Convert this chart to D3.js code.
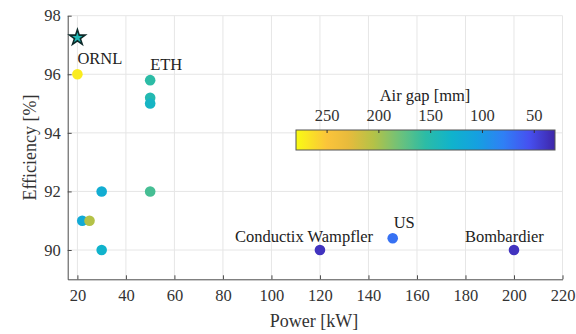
<!DOCTYPE html>
<html>
<head>
<meta charset="utf-8">
<script src="https://cdn.jsdelivr.net/npm/d3@7"></script>
<style>
  html, body { margin: 0; padding: 0; background: #fff; }
  svg { display: block; }
  svg text { font-family: "Liberation Serif", "Times New Roman", serif; }
</style>
</head>
<body>
<svg id="chart" width="576" height="334"></svg>
<script>
// Wireless charging systems: power vs. efficiency, coloured by air gap
const power      = [20, 50, 50, 50, 30, 50, 22, 25, 30, 120, 150, 200];
const efficiency = [96, 95.8, 95.2, 95.0, 92, 92, 91, 91, 90, 90, 90.4, 90];
const airGap     = [272, 155, 148, 135, 122, 165, 118, 205, 130, 38, 72, 38];

// Highlighted system (star marker)
const starPower = [20];
const starEfficiency = [97.25];
const starAirGap = [145];

// Text labels placed next to groups of points
const labelText  = ["ORNL", "ETH", "Conductix Wampfler", "US", "Bombardier"];
const labelPower = [20, 50, 120, 150, 200];
const labelEff   = [96, 95.8, 90, 90.4, 90];

const xTicks = [20, 40, 60, 80, 100, 120, 140, 160, 180, 200, 220];
const yTicks = [90, 92, 94, 96, 98];
const gapTicks = [250, 200, 150, 100, 50];

// Parula-style colormap stops (low -> high)
const parulaStops = ["#3e26a8", "#4650f0", "#2f80f5", "#15a0e0", "#10b3cc",
                     "#2cbca6", "#6ec27a", "#b4c247", "#e8bb3c", "#fbc43a", "#f9fb14"];
const parulaPos = [0, 0.1, 0.2, 0.3, 0.4, 0.5, 0.6, 0.7, 0.8, 0.88, 1];
const parulaScale = d3.scaleLinear().domain(parulaPos).range(parulaStops)
  .interpolate(d3.interpolateRgb).clamp(true);
const gapDomain = [30, 280];
const color = v => parulaScale((v - gapDomain[0]) / (gapDomain[1] - gapDomain[0]));

const svg = d3.select("#chart");
const x = d3.scaleLinear().domain([16, 220]).range([67.7, 562.5]);
const y = d3.scaleLinear().domain([89, 98]).range([279.3, 15.7]);

const axisColor = "#4a4a4a";
const textColor = "#333";

// Grid
const grid = svg.append("g").attr("stroke", "#e6e6e6").attr("stroke-width", 1);
grid.selectAll("line.vx").data(xTicks).join("line")
  .attr("x1", d => x(d)).attr("x2", d => x(d))
  .attr("y1", y(89)).attr("y2", y(98));
grid.selectAll("line.hy").data(yTicks).join("line")
  .attr("y1", d => y(d)).attr("y2", d => y(d))
  .attr("x1", x(16)).attr("x2", x(220));

// Axes (ticks pointing inward)
const xAxis = d3.axisBottom(x).tickValues(xTicks).tickSize(-4).tickPadding(10).tickSizeOuter(0);
const yAxis = d3.axisLeft(y).tickValues(yTicks).tickSize(-4).tickPadding(7).tickSizeOuter(0);

const gx = svg.append("g").attr("transform", `translate(0,${y(89)})`).call(xAxis);
const gy = svg.append("g").attr("transform", `translate(${x(16)},0)`).call(yAxis);
[gx, gy].forEach(g => {
  g.attr("font-family", null).attr("font-size", null);
  g.select(".domain").attr("stroke", axisColor);
  g.selectAll(".tick line").attr("stroke", axisColor);
  g.selectAll(".tick text").attr("fill", textColor).style("font-size", "16.5px");
});
gx.selectAll(".tick text").attr("dy", "0.71em");

// Axis titles
svg.append("text")
  .attr("x", (x(16) + x(220)) / 2 - 1).attr("y", 327)
  .attr("text-anchor", "middle").attr("fill", textColor)
  .style("font-size", "18px").text("Power [kW]");
svg.append("text")
  .attr("transform", `translate(36,${(y(89) + y(98)) / 2}) rotate(-90)`)
  .attr("text-anchor", "middle").attr("fill", textColor)
  .style("font-size", "18px").text("Efficiency [%]");

// Data points
svg.append("g").selectAll("circle")
  .data(power.map((p, i) => ({ p, e: efficiency[i], g: airGap[i] })))
  .join("circle")
  .attr("cx", d => x(d.p)).attr("cy", d => y(d.e)).attr("r", 5.3)
  .attr("fill", d => color(d.g));

// Star marker
const star = d3.symbol().type(d3.symbolStar).size(75);
svg.append("g").selectAll("path")
  .data(starPower.map((p, i) => ({ p, e: starEfficiency[i], g: starAirGap[i] })))
  .join("path")
  .attr("d", star)
  .attr("transform", d => `translate(${x(d.p)},${y(d.e)})`)
  .attr("fill", d => color(d.g)).attr("stroke", "#0d2a2a").attr("stroke-width", 1.6);

// Point labels
const labelDx = [0, 0, -85, 1, -49];
const labelDy = [-10, -10, -8, -10, -8];
svg.append("g").selectAll("text")
  .data(labelText.map((t, i) => ({ t, p: labelPower[i], e: labelEff[i], i })))
  .join("text")
  .attr("x", d => x(d.p) + labelDx[d.i])
  .attr("y", d => y(d.e) + labelDy[d.i])
  .attr("fill", "#222").style("font-size", "16.5px")
  .text(d => d.t);

// Colorbar: high air gap on the left, low on the right
const cb = { x0: 296, x1: 555, y0: 130, y1: 150 };
const cbScale = d3.scaleLinear().domain([280, 30]).range([cb.x0, cb.x1]);
const defs = svg.append("defs");
const grad = defs.append("linearGradient").attr("id", "gapGrad")
  .attr("x1", "0%").attr("x2", "100%").attr("y1", "0%").attr("y2", "0%");
d3.range(0, 1.0001, 0.02).forEach(t => {
  const v = 280 - t * 250;
  grad.append("stop").attr("offset", `${t * 100}%`).attr("stop-color", color(v));
});
svg.append("rect")
  .attr("x", cb.x0).attr("y", cb.y0)
  .attr("width", cb.x1 - cb.x0).attr("height", cb.y1 - cb.y0)
  .attr("fill", "url(#gapGrad)").attr("stroke", "#555").attr("stroke-width", 1);
svg.append("g").selectAll("line").data(gapTicks).join("line")
  .attr("x1", d => cbScale(d)).attr("x2", d => cbScale(d))
  .attr("y1", cb.y0).attr("y2", cb.y0 + 3)
  .attr("stroke", "#333");
svg.append("g").selectAll("text").data(gapTicks).join("text")
  .attr("x", d => cbScale(d)).attr("y", 121)
  .attr("text-anchor", "middle").attr("fill", textColor)
  .style("font-size", "16.5px").text(d => d);
svg.append("text")
  .attr("x", 425).attr("y", 101)
  .attr("text-anchor", "middle").attr("fill", "#222")
  .style("font-size", "16.5px").text("Air gap [mm]");
</script>
</body>
</html>
